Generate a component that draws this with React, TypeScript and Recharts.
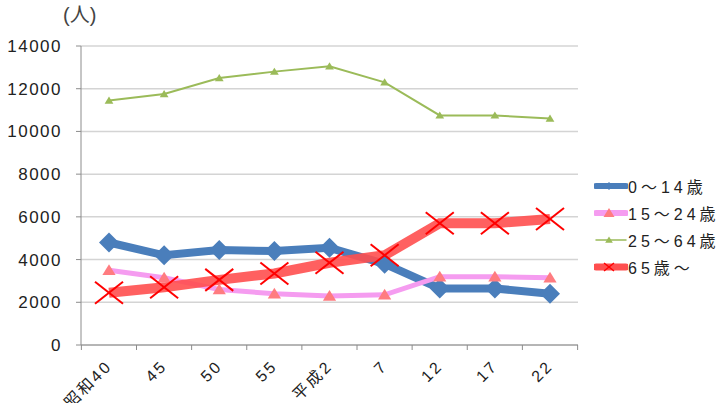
import { LineChart, Line, XAxis, YAxis, CartesianGrid } from 'recharts';

const categories = ['昭和40', '45', '50', '55', '平成2', '7', '12', '17', '22'];
const age0to14 = [4800, 4200, 4450, 4400, 4550, 3800, 2650, 2650, 2400];
const age15to24 = [3500, 3150, 2600, 2400, 2300, 2350, 3200, 3200, 3150];
const age25to64 = [11450, 11750, 12500, 12800, 13050, 12300, 10750, 10750, 10600];
const age65plus = [2450, 2700, 3050, 3350, 3850, 4200, 5700, 5700, 5900];
const yTicks = [0, 2000, 4000, 6000, 8000, 10000, 12000, 14000];

const seriesNames = ['0〜14歳', '15〜24歳', '25〜64歳', '65歳〜'];

const data = categories.map((c, i) => ({
  year: c,
  a: age0to14[i],
  b: age15to24[i],
  c: age25to64[i],
  d: age65plus[i],
}));

const FONT = '"Liberation Sans", "Noto Sans CJK JP", sans-serif';

const BLUE = '#4a7ebb';
const PINK_LINE = '#f59cf0';
const PINK_MARK = '#ff7c80';
const GREEN = '#9bbb59';
const RED_LINE = '#ff4f4f';
const RED_MARK = '#ff0000';
const AXIS = '#8c8c8c';

const diamond = (cx: number, cy: number, r: number) =>
  `M${cx},${cy - r}L${cx + r},${cy}L${cx},${cy + r}L${cx - r},${cy}Z`;
const triangle = (cx: number, cy: number, r: number) =>
  `M${cx},${cy - r}L${cx + r * 1.1},${cy + r * 0.8}L${cx - r * 1.1},${cy + r * 0.8}Z`;

const BlueDot = (p: any) => (
  <path key={`b${p.index}`} d={diamond(p.cx, p.cy, 10)} fill={BLUE} />
);
const PinkDot = (p: any) => (
  <path key={`p${p.index}`} d={triangle(p.cx, p.cy, 6)} fill={PINK_MARK} />
);
const GreenDot = (p: any) => (
  <path key={`g${p.index}`} d={triangle(p.cx, p.cy, 4)} fill={GREEN} />
);
const RedDot = (p: any) => (
  <g key={`r${p.index}`} stroke={RED_MARK} strokeWidth={2}>
    <line x1={p.cx - 14} y1={p.cy - 11} x2={p.cx + 14} y2={p.cy + 11} />
    <line x1={p.cx - 14} y1={p.cy + 11} x2={p.cx + 14} y2={p.cy - 11} />
  </g>
);

// category ticks sit on the band boundaries, like the spreadsheet original
const XTick = (p: any) => {
  const count = p.visibleTicksCount || categories.length;
  const half = p.width ? p.width / count / 2 : 0;
  const axisY = p.y - 8;
  const last = p.index === count - 1;
  return (
    <g>
      <line x1={p.x - half} y1={axisY} x2={p.x - half} y2={axisY + 5} stroke={AXIS} />
      {last && <line x1={p.x + half} y1={axisY} x2={p.x + half} y2={axisY + 5} stroke={AXIS} />}
      <g transform={`translate(${p.x + 4},${p.y + 14})`}>
        <text
          x={0}
          y={0}
          textAnchor="end"
          transform="rotate(-45)"
          fontSize={16}
          letterSpacing={2.5}
          fill="#222"
          fontFamily={FONT}
        >
          {p.payload.value}
        </text>
      </g>
    </g>
  );
};

const LegendBox = () => {
  const rows = [
    { name: seriesNames[0], line: BLUE, w: 6, mark: <path d={diamond(15, 9, 4)} fill={BLUE} /> },
    { name: seriesNames[1], line: PINK_LINE, w: 6, mark: <path d={triangle(15, 9, 5)} fill={PINK_MARK} /> },
    { name: seriesNames[2], line: GREEN, w: 1.5, mark: <path d={triangle(15, 9, 3.5)} fill={GREEN} /> },
    {
      name: seriesNames[3],
      line: RED_LINE,
      w: 7,
      mark: (
        <g stroke={RED_MARK} strokeWidth={1.5}>
          <line x1={10} y1={5} x2={20} y2={13} />
          <line x1={10} y1={13} x2={20} y2={5} />
        </g>
      ),
    },
  ];
  return (
    <div
      style={{
        position: 'absolute',
        left: 594,
        top: 172,
        fontFamily: FONT,
        fontSize: 16,
        color: '#222',
      }}
    >
      {rows.map((r) => (
        <div key={r.name} style={{ display: 'flex', alignItems: 'center', height: 27 }}>
          <svg width={34} height={18}>
            <line x1={2} y1={9} x2={32} y2={9} stroke={r.line} strokeWidth={r.w} strokeLinecap="round" />
            {r.mark}
          </svg>
          <span style={{ letterSpacing: 4 }}>{r.name}</span>
        </div>
      ))}
    </div>
  );
};

export default function App() {
  return (
    <div style={{ position: 'absolute', left: 0, top: 0, width: 728, height: 403, background: '#fff' }}>
      <div
        style={{
          position: 'absolute',
          left: 63,
          top: -1,
          fontFamily: FONT,
          fontSize: 20,
          color: '#444',
        }}
      >
        (人)
      </div>
      <LineChart width={728} height={403} data={data} margin={{ top: 46, right: 150, bottom: 0, left: 0 }}>
        <CartesianGrid vertical={false} stroke="#d4d4d4" strokeWidth={1.5} />
        <XAxis
          dataKey="year"
          height={58}
          stroke={AXIS}
          tickLine={false}
          tick={<XTick />}
          interval={0}
          padding={{ left: 28, right: 28 }}
        />
        <YAxis
          width={81}
          domain={[0, 14000]}
          ticks={yTicks}
          interval={0}
          stroke={AXIS}
          tickSize={5}
          tickMargin={14}
          tick={{ fontSize: 17, fill: '#222', fontFamily: FONT, letterSpacing: 1.5 }}
        />
        <Line
          dataKey="a"
          name={seriesNames[0]}
          stroke={BLUE}
          strokeWidth={8}
          dot={BlueDot}
          activeDot={false}
          isAnimationActive={false}
        />
        <Line
          dataKey="b"
          name={seriesNames[1]}
          stroke={PINK_LINE}
          strokeWidth={5}
          dot={PinkDot}
          activeDot={false}
          isAnimationActive={false}
        />
        <Line
          dataKey="c"
          name={seriesNames[2]}
          stroke={GREEN}
          strokeWidth={2}
          dot={GreenDot}
          activeDot={false}
          isAnimationActive={false}
        />
        <Line
          dataKey="d"
          name={seriesNames[3]}
          stroke={RED_LINE}
          strokeOpacity={0.9}
          strokeWidth={10}
          dot={RedDot}
          activeDot={false}
          isAnimationActive={false}
        />
      </LineChart>
      <LegendBox />
    </div>
  );
}
